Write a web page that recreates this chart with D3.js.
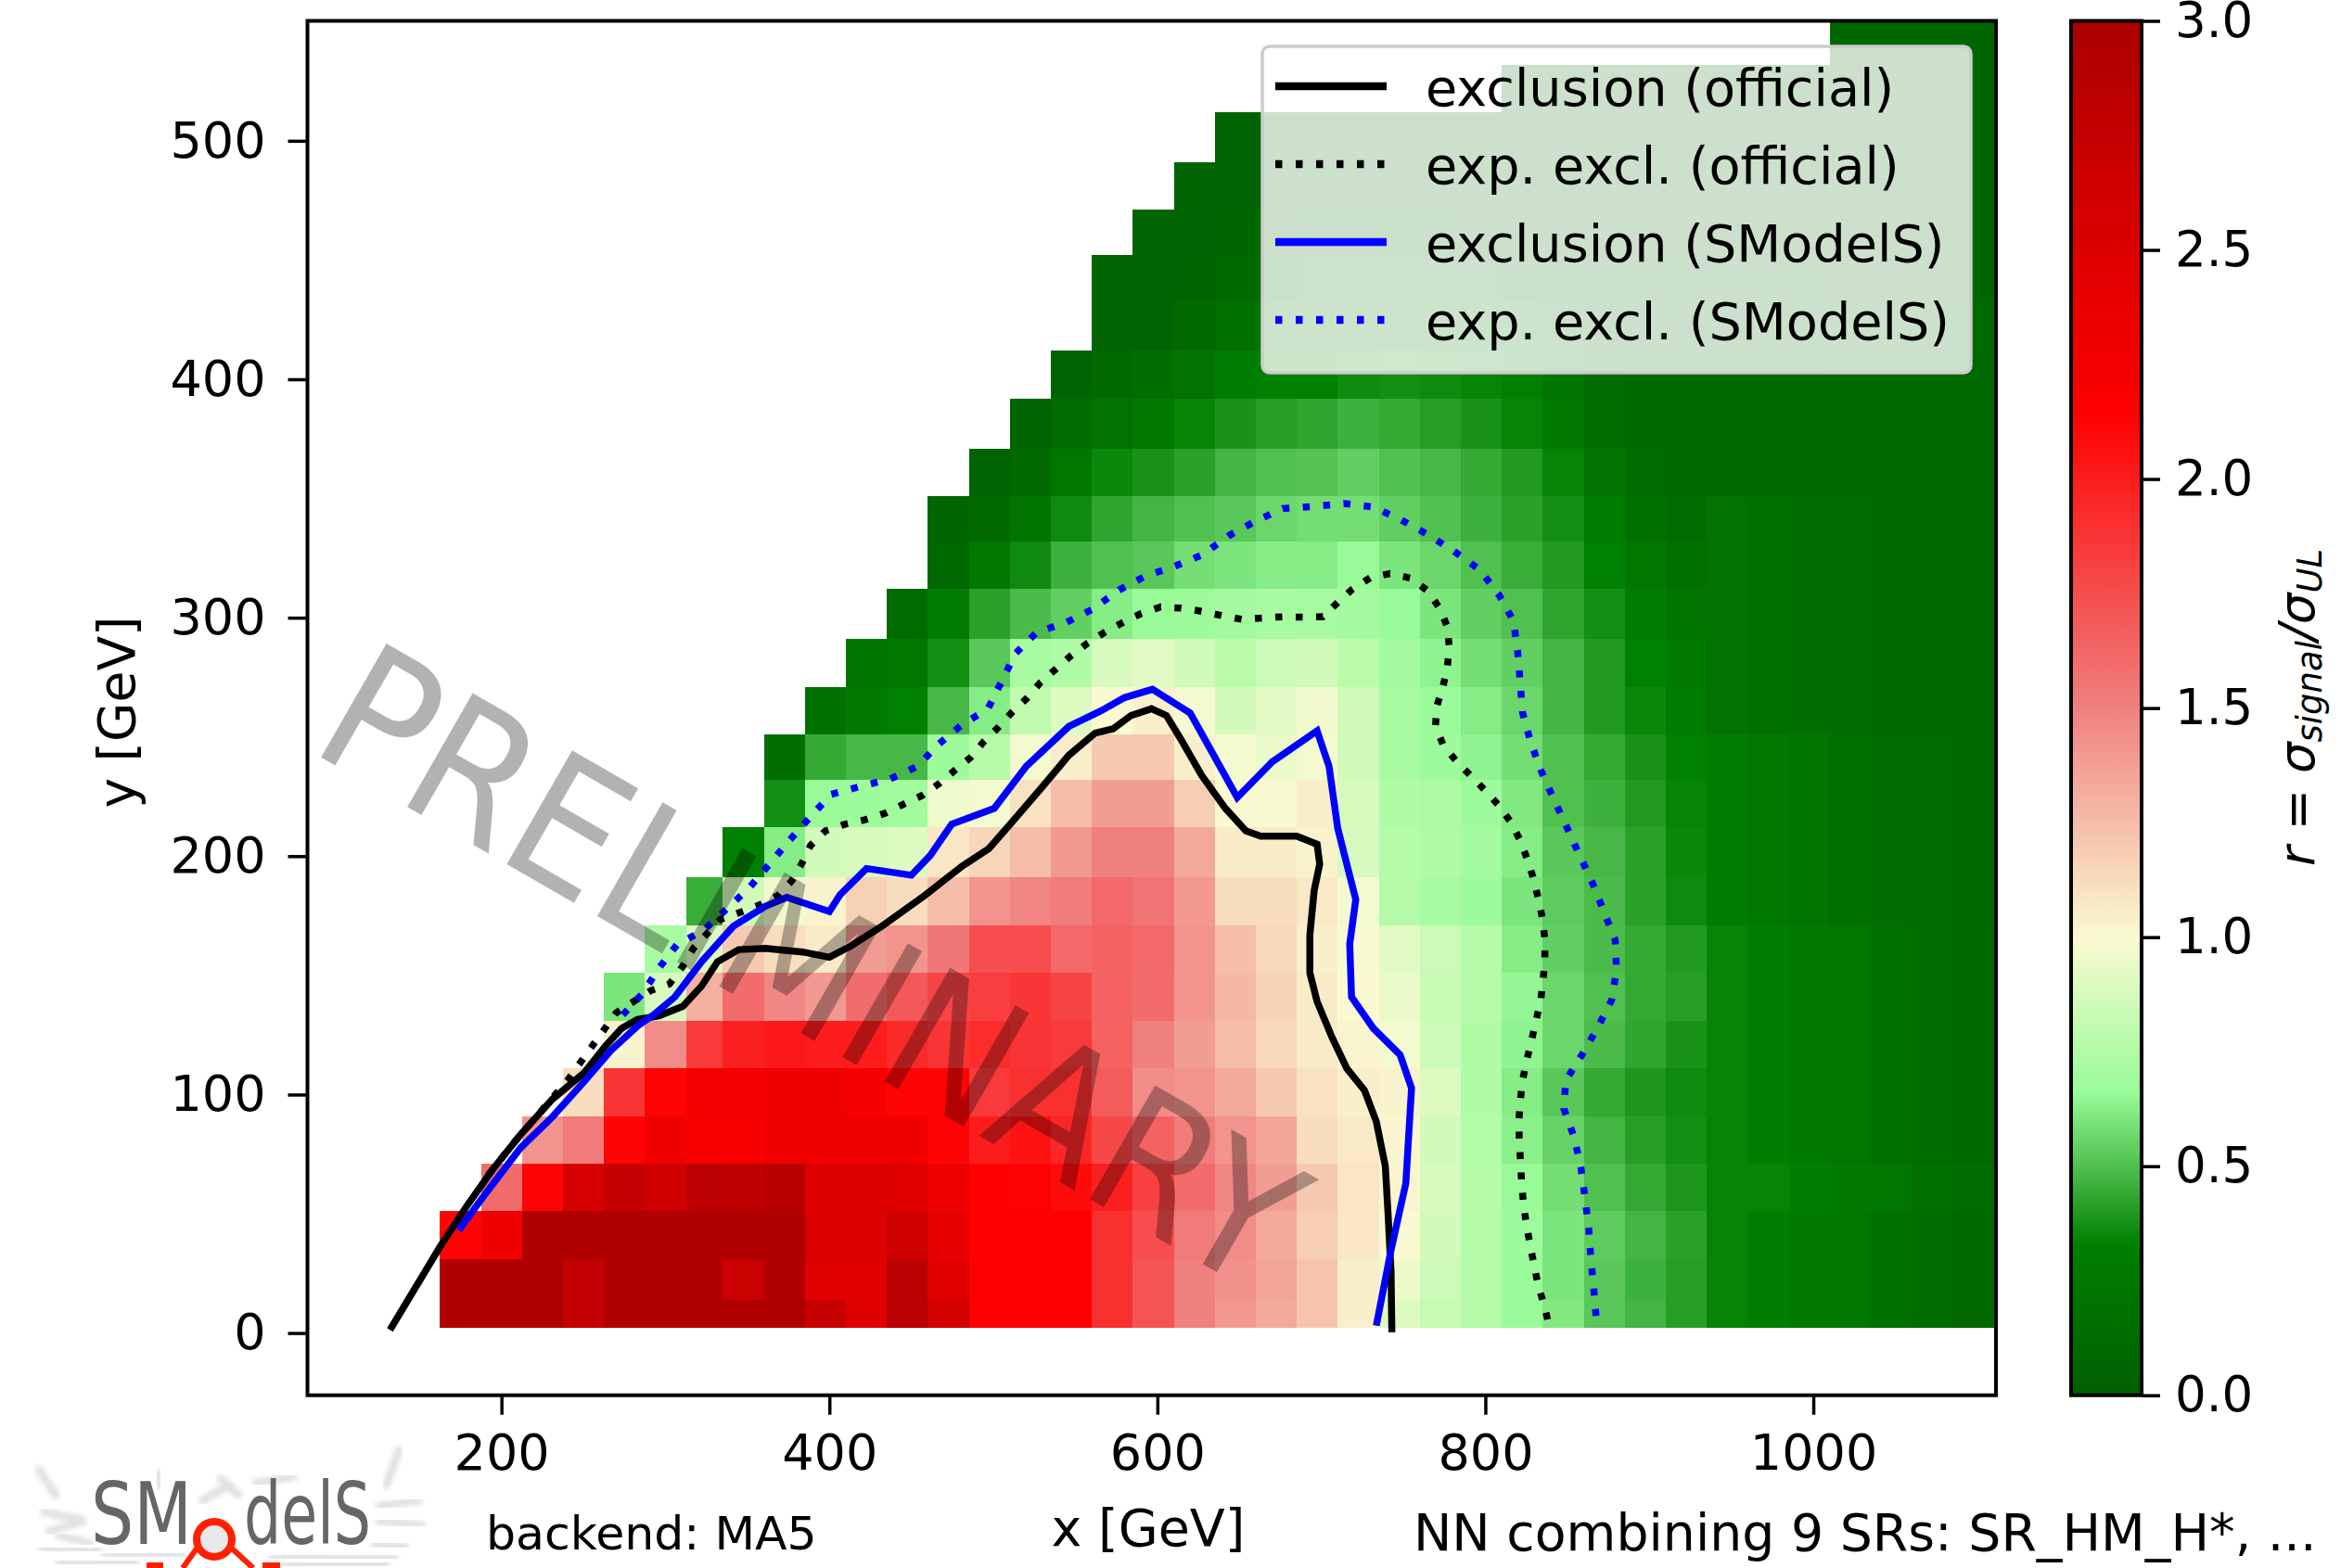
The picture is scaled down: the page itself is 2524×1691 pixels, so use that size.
<!DOCTYPE html>
<html>
<head>
<meta charset="utf-8">
<style>
	html, body { margin: 0; padding: 0; background: #fff; }
	svg { display: block; }
	text { font-family: "DejaVu Sans", sans-serif; fill: #000; }
</style>
<script src="https://cdn.jsdelivr.net/npm/d3@7/dist/d3.min.js"></script>
</head>
<body>
<script>
//Axis ticks
var xTicks = [200, 400, 600, 800, 1000];
var yTicks = [0, 100, 200, 300, 400, 500];
var rTicks = [0, 0.5, 1, 1.5, 2, 2.5, 3];

//Bin edges of the r map, GeV
var colEdges = [162.5, 187.5, 212.5, 237.5, 262.5, 287.5, 312.5, 335, 360, 385, 410, 435, 460, 485, 510, 535, 560, 585, 610, 635, 660, 685, 710, 735, 760, 785, 810, 835, 860, 885, 910, 935, 960, 985, 1010, 1035, 1060, 1085, 1111.4];
var rowEdges = [2, 14, 31, 51, 71, 91, 111, 131, 151, 171, 191, 212, 232, 251, 271, 291, 312, 332, 351, 371, 392, 412, 433, 452, 471, 491, 512, 532, 550.3];

//First filled column of every row, and the r values from there on (bottom row first)
var firstCol = [0, 0, 0, 1, 2, 3, 4, 4, 5, 6, 7, 8, 8, 9, 10, 11, 12, 12, 13, 14, 15, 16, 16, 17, 18, 19, 26, 34];
var ratio = [
	[2.95,2.95,2.95,2.75,2.95,2.95,2.95,2.95,2.95,2.72,2.45,2.85,2.6,2.15,2.15,2.15,1.9,1.72,1.5,1.4,1.33,1.22,1.04,.9,.82,.76,.67,.61,.52,.47,.41,.34,.31,.27,.24,.17,.13,.09],
	[2.95,2.95,2.95,2.75,2.95,2.95,2.95,2.68,2.95,2.45,2.45,2.85,2.45,2.15,2.15,2.15,1.9,1.72,1.5,1.43,1.35,1.22,1.05,.95,.84,.76,.67,.6,.52,.46,.41,.34,.31,.27,.24,.17,.13,.09],
	[2.12,2.3,2.95,2.95,2.95,2.95,2.95,2.95,2.95,2.5,2.5,2.65,2.4,2.15,2.15,2.15,1.9,1.75,1.53,1.45,1.33,1.18,1.08,1.0,.86,.76,.68,.6,.53,.47,.42,.34,.31,.27,.24,.17,.13,.09],
	[1.6,2.12,2.55,2.75,2.62,2.85,2.8,2.88,2.5,2.5,2.45,2.3,2.15,2.13,2.08,1.98,1.82,1.6,1.47,1.38,1.2,1.08,1.02,.88,.76,.66,.58,.5,.44,.39,.34,.34,.31,.27,.24,.17,.13,.09],
	[1.42,1.53,2.12,2.3,2.2,2.2,2.27,2.27,2.27,2.27,2.12,2.0,2.05,1.95,1.78,1.65,1.52,1.42,1.35,1.12,1.07,1.02,.86,.75,.63,.55,.47,.41,.37,.34,.31,.27,.24,.17,.13,.09],
	[1.12,1.88,2.12,2.25,2.25,2.28,2.3,2.22,2.12,2.12,1.85,1.9,1.9,1.68,1.45,1.42,1.33,1.2,1.1,1.04,1.03,.9,.74,.62,.52,.44,.39,.36,.34,.31,.27,.24,.17,.13,.09],
	[1.03,1.45,1.85,1.98,2.02,2.0,2.0,1.93,1.88,1.92,1.88,1.85,1.65,1.5,1.38,1.25,1.14,1.06,1.02,.98,.84,.74,.64,.56,.49,.43,.38,.34,.31,.27,.24,.17,.13,.09],
	[.6,.88,1.3,1.6,1.47,1.4,1.6,1.7,1.8,1.83,1.87,1.8,1.65,1.6,1.42,1.27,1.16,1.06,1.0,.94,.83,.76,.65,.56,.5,.44,.41,.34,.31,.27,.24,.17,.13,.09],
	[.72,.9,1.2,1.12,1.06,1.38,1.42,1.55,1.75,1.75,1.62,1.65,1.62,1.42,1.24,1.14,1.04,1.0,.92,.84,.76,.62,.54,.49,.44,.4,.34,.31,.27,.24,.17,.13,.09],
	[.45,.85,.97,1.03,1.17,1.12,1.25,1.42,1.48,1.52,1.62,1.56,1.4,1.12,1.12,1.07,.98,.76,.72,.68,.6,.53,.49,.42,.36,.3,.26,.22,.18,.14,.11,.08],
	[.33,.62,.86,.88,.9,1.08,1.15,1.25,1.4,1.5,1.5,1.33,1.06,1.06,1.03,.88,.76,.74,.7,.62,.52,.48,.42,.35,.3,.26,.22,.18,.14,.11,.08],
	[.37,.66,.68,.69,.96,.98,1.1,1.25,1.38,1.38,1.18,1.0,1.0,1.05,.88,.74,.73,.68,.61,.5,.46,.4,.34,.3,.26,.22,.18,.14,.11,.08],
	[.15,.44,.48,.48,.68,.76,.98,1.05,1.2,1.2,1.04,.98,.95,.98,.85,.72,.68,.64,.58,.5,.44,.38,.33,.3,.26,.22,.18,.14,.11,.08],
	[.18,.28,.33,.48,.62,.8,.9,1.0,1.04,.98,.86,.92,.97,.85,.72,.67,.62,.56,.47,.4,.35,.3,.2,.17,.14,.12,.1,.09,.08],
	[.22,.24,.37,.52,.72,.74,.88,.92,.85,.78,.84,.85,.78,.7,.64,.58,.54,.47,.4,.33,.28,.2,.17,.14,.12,.1,.09,.08],
	[.12,.3,.42,.49,.54,.62,.66,.68,.7,.72,.71,.7,.66,.6,.54,.5,.43,.37,.3,.22,.2,.17,.14,.12,.1,.09,.08],
	[.08,.25,.36,.46,.5,.52,.58,.6,.62,.62,.66,.6,.56,.5,.45,.4,.33,.24,.16,.2,.17,.14,.12,.1,.09,.08],
	[.06,.1,.22,.36,.43,.47,.5,.52,.56,.58,.58,.54,.5,.46,.42,.37,.3,.18,.12,.2,.17,.14,.12,.1,.09,.08],
	[.05,.1,.24,.35,.38,.42,.47,.5,.51,.54,.5,.48,.44,.4,.34,.2,.12,.1,.1,.1,.1,.08,.08,.08,.08],
	[.05,.12,.2,.26,.34,.38,.41,.43,.46,.44,.41,.38,.34,.28,.15,.1,.1,.1,.1,.1,.08,.08,.08,.08],
	[.04,.1,.14,.2,.3,.33,.33,.36,.37,.36,.34,.32,.22,.12,.1,.1,.1,.1,.1,.08,.08,.08,.08],
	[.04,.05,.1,.16,.22,.26,.28,.28,.27,.25,.2,.13,.1,.1,.1,.1,.1,.1,.08,.08,.08,.08],
	[.04,.05,.07,.09,.12,.14,.15,.16,.15,.13,.1,.09,.08,.08,.08,.08,.08,.08,.07,.07,.07,.07],
	[.04,.05,.06,.07,.08,.09,.09,.08,.07,.07,.07,.07,.07,.07,.07,.07,.07,.07,.07,.07,.07],
	[.04,.05,.05,.06,.06,.06,.06,.06,.06,.06,.06,.06,.06,.07,.07,.07,.07,.07,.07,.07],
	[.04,.04,.05,.05,.05,.05,.05,.05,.05,.05,.05,.05,.07,.07,.07,.07,.07,.07,.07],
	[.05,.05,.05,.05,.05,.07,.07,.07,.07,.07,.07,.07],
	[.07,.07,.07,.07]
];

//Colour map of r
var rStops = [0, 0.33, 0.5, 0.66, 1, 1.5, 2.14, 3];
var rColours = ["#006000", "#008000", "#50c050", "#98fb98", "#fafad2", "#f08080", "#ff0000", "#ac0000"];

//Exclusion lines as [x, y] in GeV
var officialObs = [[132,1.3],[162.9,36.6],[179,53.4],[195.3,69.2],[211.6,83.2],[231,98],[250.5,109.2],[263.5,120.4],[273.3,127.8],[283,131.5],[296,133],[310.6,137],[322,145.5],[331.7,155.7],[344.7,160.8],[361,161.3],[383.7,159.8],[400,157.6],[413,162.3],[432,170.6],[458.3,183.6],[481,195.8],[497.3,203.2],[510.3,213.4],[530,229.2],[546,242.3],[562,251.6],[573,253.4],[584,259],[596.4,261.8],[605.5,259],[614.5,248.8],[627,233.9],[641.5,220],[654,210.6],[663,208.4],[685,208.4],[697.4,205],[699,196.7],[695.6,185.5],[693,167],[693,151],[697.4,139],[706.5,124],[715.5,111],[726.3,101.8],[733.5,88.7],[739,70],[740.7,49.7],[742.5,25.5],[743,0.3]];
var officialExp = [[192,66.4],[208.3,80.4],[224.6,93.4],[240.8,106.4],[255.4,120.4],[270,134.3],[291,143.6],[302.5,146.4],[310.6,153.9],[317,161.3],[333.3,173.4],[344.7,176.2],[357.7,179.6],[369,183.7],[377,189.6],[383,196.7],[388.5,204.5],[397.6,210.6],[409.6,213.4],[422,215.3],[434,218],[445.4,221.8],[456.7,225.5],[466.5,230.2],[476.2,235.8],[486,241.3],[494,247.9],[503,254],[511.3,260.3],[520,265.9],[528.8,272.9],[538,278.4],[547.6,284.2],[557.4,289.3],[568,293.9],[579,298],[590,301.7],[602,304.5],[614.5,304],[627,302.7],[639.7,300.8],[651.6,299.3],[664,299.9],[677,300.4],[689,300.2],[701,300.4],[710,306.4],[719,312],[730,316.8],[741.8,318.5],[754.4,316.6],[765,311.2],[772,304],[776.8,296.3],[778,287.8],[776.8,279],[774,270.6],[770.3,262.7],[769.6,254.4],[774.3,246.6],[782.2,239.9],[790.9,233.9],[799.5,227.8],[808,221.4],[815.8,214],[821,206.9],[825.8,198.4],[829.4,190.4],[832.3,182.2],[834.9,173.6],[836.3,165],[836.3,156.3],[835.2,147.9],[833.8,139.6],[830.9,131],[828,122.2],[825,113.7],[822.6,105.5],[821.2,96.7],[820.4,88.4],[820.8,79.4],[821.5,71.2],[822.2,62.3],[823.3,54],[825,45.6],[827.3,37],[829.8,28.3],[832.3,19.7],[836,11.5],[838.8,3.1]];
var smodelsObs = [[174,43.1],[188.8,57.1],[211.6,77.6],[231,90.6],[250.5,105.5],[266.8,118.5],[283,128.8],[292.7,133.4],[305.7,140.9],[322,155.7],[341.4,170.6],[361,179],[374,182.7],[400,176.8],[406.4,183.7],[422.6,194.8],[450,192],[461.6,200.4],[474.6,213.4],[500.5,220],[520,237.6],[546,254.4],[565.5,260.9],[580,266.5],[597,270],[620,260],[648.7,224.6],[670,239.5],[697.4,252.5],[704.7,237.6],[710,211.6],[721,181.8],[717.3,163.2],[718.4,140.9],[731.7,127.8],[748,116.7],[755,102.7],[751.5,62.7],[742.5,34.8],[733.5,3.1]];
var smodelsExp = [[274,133.4],[286,142.3],[296,153],[307,162.8],[323.6,169.1],[337.6,178],[351.2,186.8],[363.5,196.7],[375.5,206.5],[388,216.2],[401,225.9],[418.7,229.2],[437.2,232.4],[453.5,237.6],[466.5,246.9],[480.4,254.9],[496.7,261.8],[505.4,273.8],[513.5,285],[526.5,293.9],[544.4,298],[560.6,303.6],[576.6,311.6],[592.8,317.5],[610,321.4],[627.8,326.5],[643.3,334.3],[659.6,340.4],[676.5,345.8],[695.6,346.6],[713.7,347.9],[731.7,346.4],[748.7,341],[765.3,334.7],[781,327.8],[796.6,320.1],[808.2,309.7],[817.2,298.6],[819.7,285.9],[821.2,273.4],[822.6,260.5],[827.6,247.9],[834,235.8],[841.7,224],[849.7,212.1],[857.6,200.2],[865.5,188.5],[872.4,176.6],[879.2,164.7],[880,152],[877,139.6],[868.4,128],[859,116.7],[849,105.9],[847.9,94],[854.3,81.9],[858.3,69.2],[860.8,56.7],[863,44.1],[864.4,31],[866.2,18],[868,3.1]];

var legendLabels = ["exclusion (official)", "exp. excl. (official)", "exclusion (SModelS)", "exp. excl. (SModelS)"];
var legendColours = ["black", "black", "blue", "blue"];
var legendDotted = [false, true, false, true];

function makeGraph() {
	var w = 2524;
	var h = 1691;
	var margin = {top: 22.5, right: 2152, bottom: 1504.7, left: 331.5};
	var bar = {left: 2233, right: 2309};
	var tickSize = 21;
	var lineWidth = 7.5;
	var dots = "7.5 14.5";
	var fontSize = 54;

	var svg = d3.select("body")
		.append("svg")
		.attr("width", w)
		.attr("height", h);

	var xScale = d3.scaleLinear().domain([81.7, 1111.4]).range([margin.left, margin.right]);
	var yScale = d3.scaleLinear().domain([-26.1, 550.3]).range([margin.bottom, margin.top]);
	var rScale = d3.scaleLinear().domain([0, 3]).range([margin.bottom, margin.top]);
	var colourScale = d3.scaleLinear().domain(rStops).range(rColours);

	//r map, one group for each row
	ratio.forEach(function(row, r) {
		svg.append("g")
			.selectAll("rect")
			.data(row)
			.enter()
			.append("rect")
			.attr("x", function(d, i) { return xScale(colEdges[firstCol[r] + i]); })
			.attr("width", function(d, i) { return xScale(colEdges[firstCol[r] + i + 1]) - xScale(colEdges[firstCol[r] + i]); })
			.attr("y", yScale(rowEdges[r + 1]))
			.attr("height", yScale(rowEdges[r]) - yScale(rowEdges[r + 1]))
			.attr("fill", function(d) { return colourScale(d); })
			.attr("shape-rendering", "crispEdges");
	});

	//Exclusion lines
	var line = d3.line()
		.x(function(d) { return xScale(d[0]); })
		.y(function(d) { return yScale(d[1]); });

	function addLine(points, colour, dotted) {
		svg.append("path")
			.datum(points)
			.attr("d", line)
			.attr("fill", "none")
			.attr("stroke", colour)
			.attr("stroke-width", lineWidth)
			.attr("stroke-dasharray", dotted ? dots : null);
	}
	addLine(officialObs, "black", false);
	addLine(officialExp, "black", true);
	addLine(smodelsObs, "blue", false);
	addLine(smodelsExp, "blue", true);

	//Watermark
	svg.append("text")
		.attr("transform", "translate(331,808) rotate(29.9) scale(1,1.09)")
		.attr("font-size", 178)
		.style("fill", "black")
		.style("fill-opacity", 0.3)
		.text("PRELIMINARY");

	//Axes
	var xAxis = d3.axisBottom(xScale).tickValues(xTicks).tickSize(tickSize).tickPadding(21).tickFormat(d3.format("d"));
	var yAxis = d3.axisLeft(yScale).tickValues(yTicks).tickSize(tickSize).tickPadding(24).tickFormat(d3.format("d"));
	var rAxis = d3.axisRight(rScale).tickValues(rTicks).tickSize(20).tickPadding(16).tickFormat(d3.format(".1f"));

	var axes = [
		svg.append("g").attr("transform", "translate(0," + margin.bottom + ")").call(xAxis),
		svg.append("g").attr("transform", "translate(" + margin.left + ",0)").call(yAxis),
		svg.append("g").attr("transform", "translate(" + bar.right + ",0)").call(rAxis)
	];
	axes.forEach(function(axis) {
		axis.select(".domain").remove();
		axis.attr("font-family", null).attr("font-size", fontSize);
		axis.selectAll("line").attr("stroke-width", 3.5);
	});
	axes[2].attr("font-size", 53);

	//Frame of the plot
	svg.append("rect")
		.attr("x", margin.left)
		.attr("y", margin.top)
		.attr("width", margin.right - margin.left)
		.attr("height", margin.bottom - margin.top)
		.attr("fill", "none")
		.attr("stroke", "black")
		.attr("stroke-width", 4);

	//Colour bar
	var defs = svg.append("defs");
	var gradient = defs.append("linearGradient")
		.attr("id", "rGradient")
		.attr("x1", 0).attr("x2", 0).attr("y1", 1).attr("y2", 0);
	gradient.selectAll("stop")
		.data(rStops)
		.enter()
		.append("stop")
		.attr("offset", function(d) { return d / 3; })
		.attr("stop-color", function(d) { return colourScale(d); });
	svg.append("rect")
		.attr("x", bar.left)
		.attr("y", margin.top)
		.attr("width", bar.right - bar.left)
		.attr("height", margin.bottom - margin.top)
		.attr("fill", "url(#rGradient)")
		.attr("stroke", "black")
		.attr("stroke-width", 4);

	//Axis titles
	svg.append("text")
		.attr("x", 1238).attr("y", 1667)
		.attr("text-anchor", "middle")
		.attr("font-size", 55.5)
		.text("x [GeV]");
	svg.append("text")
		.attr("transform", "translate(145,768) rotate(-90)")
		.attr("text-anchor", "middle")
		.attr("font-size", 55)
		.text("y [GeV]");

	var rLabel = svg.append("text")
		.attr("transform", "translate(2495,934) rotate(-90)")
		.attr("font-size", 53);
	rLabel.append("tspan").attr("font-style", "italic").text("r");
	rLabel.append("tspan").text(" = ");
	rLabel.append("tspan").attr("font-style", "italic").text("σ");
	rLabel.append("tspan").attr("font-style", "italic").attr("font-size", 37).attr("dy", 8).text("signal");
	rLabel.append("tspan").attr("font-style", "italic").attr("dy", -8).text("/σ");
	rLabel.append("tspan").attr("font-style", "italic").attr("font-size", 37).attr("dy", 8).text("UL");

	//Notes below the plot
	svg.append("text")
		.attr("x", 524).attr("y", 1671)
		.attr("font-size", 50.5)
		.text("backend: MA5");
	svg.append("text")
		.attr("x", 1524).attr("y", 1672)
		.attr("font-size", 55.3)
		.text("NN combining 9 SRs: SR_HM_H*, ...");

	//Legend
	var legend = svg.append("g");
	legend.append("rect")
		.attr("x", 1361).attr("y", 50)
		.attr("width", 764).attr("height", 352)
		.attr("rx", 8)
		.attr("fill", "white")
		.attr("fill-opacity", 0.8)
		.attr("stroke", "#ccc")
		.attr("stroke-width", 3.5);

	var legendY = d3.scalePoint().domain(legendLabels).range([93, 345]);
	legendLabels.forEach(function(label, i) {
		legend.append("line")
			.attr("x1", 1375).attr("x2", 1495)
			.attr("y1", legendY(label)).attr("y2", legendY(label))
			.attr("stroke", legendColours[i])
			.attr("stroke-width", lineWidth + 1)
			.attr("stroke-dasharray", legendDotted[i] ? dots : null);
		legend.append("text")
			.attr("x", 1537)
			.attr("y", legendY(label) + 21)
			.attr("font-size", 55.7)
			.text(label);
	});

	//Logo
	defs.append("filter")
		.attr("id", "logoBlur")
		.append("feGaussianBlur")
		.attr("stdDeviation", 2.5);
	var logo = svg.append("g");
	var logoGrey = [
		"M40,1582 L62,1616", "M44,1630 L92,1640 L50,1652", "M42,1670 L110,1672", "M60,1655 L100,1665",
		"M170,1585 L172,1606", "M235,1592 L260,1615", "M272,1600 L320,1592", "M215,1620 L250,1600",
		"M432,1560 L415,1605", "M405,1625 L455,1618", "M405,1640 L458,1645", "M400,1665 L440,1668",
		"M110,1678 L200,1676", "M290,1678 L430,1680", "M60,1686 L150,1684", "M300,1688 L420,1686"
	];
	logo.selectAll("path")
		.data(logoGrey)
		.enter()
		.append("path")
		.attr("d", function(d) { return d; })
		.attr("fill", "none")
		.attr("stroke", "#e2e2e2")
		.attr("stroke-width", 9)
		.attr("filter", "url(#logoBlur)");
	logo.append("text")
		.attr("x", 98).attr("y", 1665)
		.attr("font-size", 92)
		.attr("textLength", 109)
		.attr("lengthAdjust", "spacingAndGlyphs")
		.style("fill", "#666")
		.text("SM");
	logo.append("text")
		.attr("x", 263).attr("y", 1665)
		.attr("font-size", 92)
		.attr("textLength", 137)
		.attr("lengthAdjust", "spacingAndGlyphs")
		.style("fill", "#666")
		.text("delS");
	logo.append("circle")
		.attr("cx", 231).attr("cy", 1660)
		.attr("r", 19)
		.attr("fill", "#e8e8e8")
		.attr("stroke", "#ff2000")
		.attr("stroke-width", 8);
	logo.append("path")
		.attr("d", "M212,1670 L197,1691 M250,1670 L273,1691 M158,1688 L176,1688 M283,1688 L302,1688")
		.attr("fill", "none")
		.attr("stroke", "#ff2000")
		.attr("stroke-width", 6);
}

makeGraph();
</script>
</body>
</html>
